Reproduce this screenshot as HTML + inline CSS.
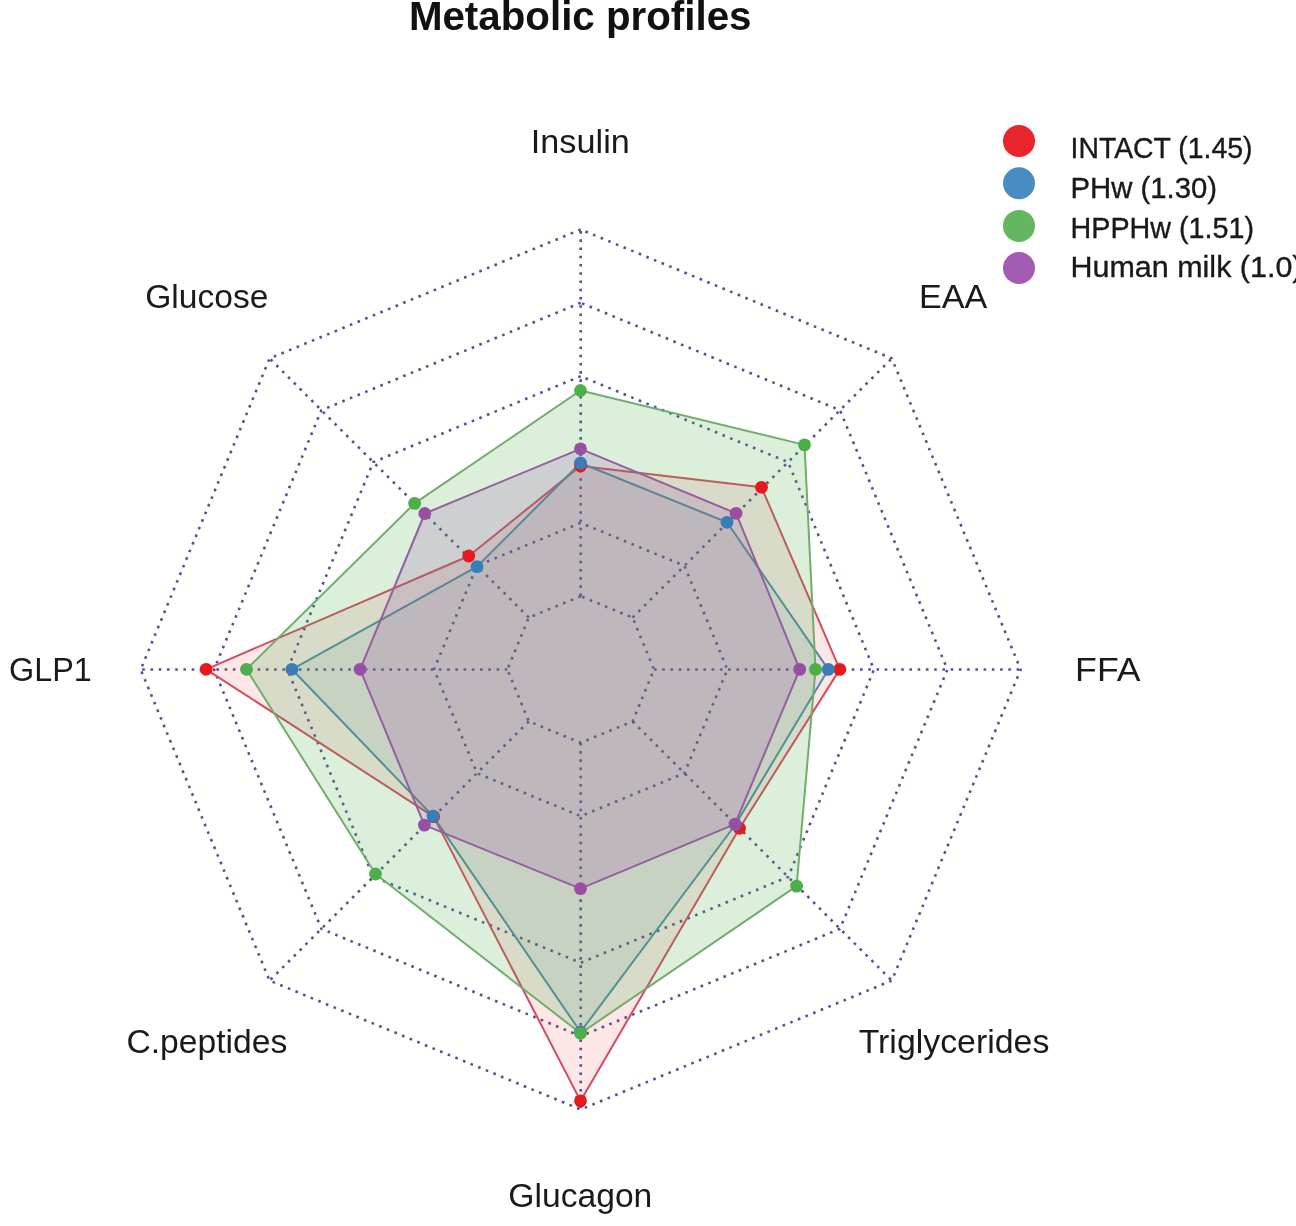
<!DOCTYPE html>
<html><head><meta charset="utf-8"><style>
html,body{margin:0;padding:0;background:#fff;width:1296px;height:1226px;overflow:hidden}
svg{display:block;filter:blur(0.5px)}
text{font-family:"Liberation Sans",sans-serif;fill:#1a1a1a}
</style></head><body>
<svg width="1296" height="1226" viewBox="0 0 1296 1226">
<rect width="1296" height="1226" fill="#fff"/>
<g fill="none" stroke="#32328a" stroke-opacity="0.85" stroke-width="2.6" stroke-dasharray="2.6 5.64"><polygon points="580.7,596.2 528.8,617.6 507.4,669.5 528.8,721.4 580.7,742.8 632.6,721.4 654.0,669.5 632.6,617.6"/><polygon points="580.7,522.8 477.0,565.8 434.0,669.5 477.0,773.2 580.7,816.2 684.4,773.2 727.4,669.5 684.4,565.8"/><polygon points="580.7,376.2 373.3,462.1 287.4,669.5 373.3,876.9 580.7,962.8 788.1,876.9 874.0,669.5 788.1,462.1"/><polygon points="580.7,302.8 321.4,410.2 214.0,669.5 321.4,928.8 580.7,1036.2 840.0,928.8 947.4,669.5 840.0,410.2"/><polygon points="580.7,229.5 269.6,358.4 140.7,669.5 269.6,980.6 580.7,1109.5 891.8,980.6 1020.7,669.5 891.8,358.4"/><line x1="580.7" y1="596.2" x2="580.7" y2="229.5"/><line x1="528.8" y1="617.6" x2="269.6" y2="358.4"/><line x1="507.4" y1="669.5" x2="140.7" y2="669.5"/><line x1="528.8" y1="721.4" x2="269.6" y2="980.6"/><line x1="580.7" y1="742.8" x2="580.7" y2="1109.5"/><line x1="632.6" y1="721.4" x2="891.8" y2="980.6"/><line x1="654.0" y1="669.5" x2="1020.7" y2="669.5"/><line x1="632.6" y1="617.6" x2="891.8" y2="358.4"/></g>
<polygon points="580.5,466.0 468.8,556.0 206.1,669.3 433.6,816.6 580.5,1100.9 739.5,828.3 839.8,669.4 761.5,487.3" fill="#E41A1C" fill-opacity="0.11" stroke="#d64a60" stroke-opacity="1" stroke-width="2.0" stroke-linejoin="round"/><polygon points="580.5,463.0 477.0,566.6 291.9,669.3 433.0,816.1 580.5,1032.0 735.5,824.5 828.3,669.4 727.0,522.3" fill="#377EB8" fill-opacity="0.1" stroke="#5389a6" stroke-opacity="1" stroke-width="2.0" stroke-linejoin="round"/><polygon points="580.5,390.5 414.6,503.4 246.5,669.3 375.5,874.0 580.5,1033.3 796.6,886.1 815.5,669.4 804.5,444.9" fill="#4DAF4A" fill-opacity="0.2" stroke="#72ad6e" stroke-opacity="1" stroke-width="2.0" stroke-linejoin="round"/><polygon points="580.5,448.8 424.8,513.5 360.1,669.3 424.4,825.1 580.5,888.6 735.0,824.1 799.7,669.4 736.1,513.3" fill="#984EA3" fill-opacity="0.2" stroke="#935f9f" stroke-opacity="1" stroke-width="2.0" stroke-linejoin="round"/>
<circle cx="580.5" cy="466.0" r="6.4" fill="#E41A1C"/><circle cx="468.8" cy="556.0" r="6.4" fill="#E41A1C"/><circle cx="206.1" cy="669.3" r="6.4" fill="#E41A1C"/><circle cx="433.6" cy="816.6" r="6.4" fill="#E41A1C"/><circle cx="580.5" cy="1100.9" r="6.4" fill="#E41A1C"/><circle cx="739.5" cy="828.3" r="6.4" fill="#E41A1C"/><circle cx="839.8" cy="669.4" r="6.4" fill="#E41A1C"/><circle cx="761.5" cy="487.3" r="6.4" fill="#E41A1C"/><circle cx="580.5" cy="463.0" r="6.4" fill="#377EB8"/><circle cx="477.0" cy="566.6" r="6.4" fill="#377EB8"/><circle cx="291.9" cy="669.3" r="6.4" fill="#377EB8"/><circle cx="433.0" cy="816.1" r="6.4" fill="#377EB8"/><circle cx="580.5" cy="1032.0" r="6.4" fill="#377EB8"/><circle cx="735.5" cy="824.5" r="6.4" fill="#377EB8"/><circle cx="828.3" cy="669.4" r="6.4" fill="#377EB8"/><circle cx="727.0" cy="522.3" r="6.4" fill="#377EB8"/><circle cx="580.5" cy="390.5" r="6.4" fill="#4DAF4A"/><circle cx="414.6" cy="503.4" r="6.4" fill="#4DAF4A"/><circle cx="246.5" cy="669.3" r="6.4" fill="#4DAF4A"/><circle cx="375.5" cy="874.0" r="6.4" fill="#4DAF4A"/><circle cx="580.5" cy="1033.3" r="6.4" fill="#4DAF4A"/><circle cx="796.6" cy="886.1" r="6.4" fill="#4DAF4A"/><circle cx="815.5" cy="669.4" r="6.4" fill="#4DAF4A"/><circle cx="804.5" cy="444.9" r="6.4" fill="#4DAF4A"/><circle cx="580.5" cy="448.8" r="6.4" fill="#984EA3"/><circle cx="424.8" cy="513.5" r="6.4" fill="#984EA3"/><circle cx="360.1" cy="669.3" r="6.4" fill="#984EA3"/><circle cx="424.4" cy="825.1" r="6.4" fill="#984EA3"/><circle cx="580.5" cy="888.6" r="6.4" fill="#984EA3"/><circle cx="735.0" cy="824.1" r="6.4" fill="#984EA3"/><circle cx="799.7" cy="669.4" r="6.4" fill="#984EA3"/><circle cx="736.1" cy="513.3" r="6.4" fill="#984EA3"/>
<g font-size="33.5"><text x="580.3" y="153" text-anchor="middle" textLength="98.97" lengthAdjust="spacingAndGlyphs">Insulin</text><text x="206.8" y="307.7" text-anchor="middle" textLength="123.2" lengthAdjust="spacingAndGlyphs">Glucose</text><text x="50.4" y="681.2" text-anchor="middle" textLength="82.75" lengthAdjust="spacingAndGlyphs">GLP1</text><text x="206.9" y="1052.8" text-anchor="middle" textLength="160.87" lengthAdjust="spacingAndGlyphs">C.peptides</text><text x="580.3" y="1207.2" text-anchor="middle" textLength="144.0" lengthAdjust="spacingAndGlyphs">Glucagon</text><text x="954" y="1052.6" text-anchor="middle" textLength="190.67" lengthAdjust="spacingAndGlyphs">Triglycerides</text><text x="1107.8" y="681.3" text-anchor="middle" textLength="65.36" lengthAdjust="spacingAndGlyphs">FFA</text><text x="953.2" y="307.8" text-anchor="middle" textLength="68.3" lengthAdjust="spacingAndGlyphs">EAA</text></g>
<text x="580.2" y="29.7" text-anchor="middle" font-size="40.3" font-weight="bold" style="fill:#111">Metabolic profiles</text>
<g font-size="30" style="fill:#111"><circle cx="1019" cy="141.0" r="16" fill="#E8242C"/><text stroke="#111" stroke-width="0.35" x="1070.5" y="158.2" textLength="182" lengthAdjust="spacingAndGlyphs">INTACT (1.45)</text><circle cx="1019" cy="183.2" r="16" fill="#488CC4"/><text stroke="#111" stroke-width="0.35" x="1070.5" y="197.5" textLength="146.5" lengthAdjust="spacingAndGlyphs">PHw (1.30)</text><circle cx="1019" cy="225.9" r="16" fill="#62B760"/><text stroke="#111" stroke-width="0.35" x="1070.5" y="237.8" textLength="183.5" lengthAdjust="spacingAndGlyphs">HPPHw (1.51)</text><circle cx="1019" cy="268.0" r="16" fill="#A35CB2"/><text stroke="#111" stroke-width="0.35" x="1070.5" y="277.3" textLength="232" lengthAdjust="spacingAndGlyphs">Human milk (1.0)</text></g>
</svg>
</body></html>
